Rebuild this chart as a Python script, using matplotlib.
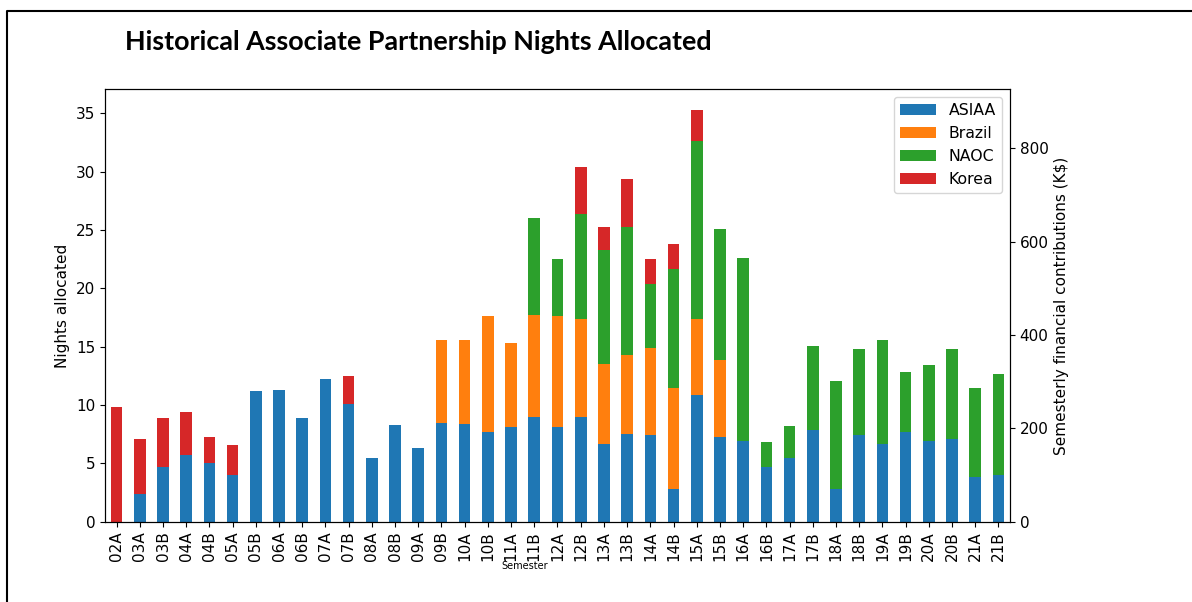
import matplotlib
matplotlib.use("Agg")
import matplotlib.pyplot as plt
from matplotlib.lines import Line2D
import pandas as pd

semesters = ["02A", "03A", "03B", "04A", "04B", "05A", "05B", "06A", "06B", "07A",
             "07B", "08A", "08B", "09A", "09B", "10A", "10B", "11A", "11B", "12A",
             "12B", "13A", "13B", "14A", "14B", "15A", "15B", "16A", "16B", "17A",
             "17B", "18A", "18B", "19A", "19B", "20A", "20B", "21A", "21B"]
asiaa = [0.0, 2.4, 4.7, 5.7, 5.0, 4.0, 11.2, 11.3, 8.9, 12.2,
         10.1, 5.5, 8.3, 6.3, 8.5, 8.4, 7.7, 8.1, 9.0, 8.1,
         9.0, 6.7, 7.5, 7.4, 2.8, 10.9, 7.3, 6.9, 4.7, 5.5,
         7.9, 2.8, 7.4, 6.7, 7.7, 6.9, 7.1, 3.8, 4.0]
brazil = [0, 0, 0, 0, 0, 0, 0, 0, 0, 0,
          0, 0, 0, 0, 7.1, 7.2, 9.9, 7.2, 8.7, 9.5,
          8.4, 6.8, 6.8, 7.5, 8.7, 6.5, 6.6, 0, 0, 0,
          0, 0, 0, 0, 0, 0, 0, 0, 0]
naoc = [0, 0, 0, 0, 0, 0, 0, 0, 0, 0,
        0, 0, 0, 0, 0, 0, 0, 0, 8.3, 4.9,
        9.0, 9.8, 11.0, 5.5, 10.2, 15.2, 11.2, 15.7, 2.1, 2.7,
        7.2, 9.3, 7.4, 8.9, 5.1, 6.5, 7.7, 7.7, 8.7]
korea = [9.8, 4.7, 4.2, 3.7, 2.3, 2.6, 0, 0, 0, 0,
         2.4, 0, 0, 0, 0, 0, 0, 0, 0, 0,
         4.0, 2.0, 4.1, 2.1, 2.1, 2.7, 0, 0, 0, 0,
         0, 0, 0, 0, 0, 0, 0, 0, 0]

KUSD_PER_NIGHT = 25  # secondary axis scale

df = pd.DataFrame({"ASIAA": asiaa, "Brazil": brazil, "NAOC": naoc, "Korea": korea},
                  index=pd.Index(semesters, name="Semester"))

plt.rcParams["font.size"] = 11
fig = plt.figure(figsize=(11.92, 6.02), dpi=100)
ax = fig.add_axes([0.0881, 0.1334, 0.7592, 0.7183])
df.plot(kind="bar", stacked=True, ax=ax)
ax.set_ylabel("Nights allocated", fontsize=11)
ax.set_xlabel("Semester", fontsize=7)
ax.xaxis.set_label_coords(0.464, -0.09)
ax.tick_params(labelsize=11)
ax.legend(loc="upper right", fontsize=11.3, handlelength=2.3)

ax2 = ax.twinx()
ax2.set_ylim(0, ax.get_ylim()[1] * KUSD_PER_NIGHT)
ax2.set_yticks([0, 200, 400, 600, 800])
ax2.set_ylabel("Semesterly financial contributions (K$)", fontsize=11)
ax2.tick_params(labelsize=11)

fig.text(125 / 1192, 1 - 50 / 602, "Historical Associate Partnership Nights Allocated",
         family="Lato", weight="bold", fontsize=19.4, ha="left", va="baseline")

# page frame lines (top and left)
fig.add_artist(Line2D([7.5 / 1192, 7.5 / 1192, 1.0], [0.0, 1 - 10.5 / 602, 1 - 10.5 / 602],
                      transform=fig.transFigure, color="black", lw=1.5))

fig.savefig("out.png", dpi=100)
